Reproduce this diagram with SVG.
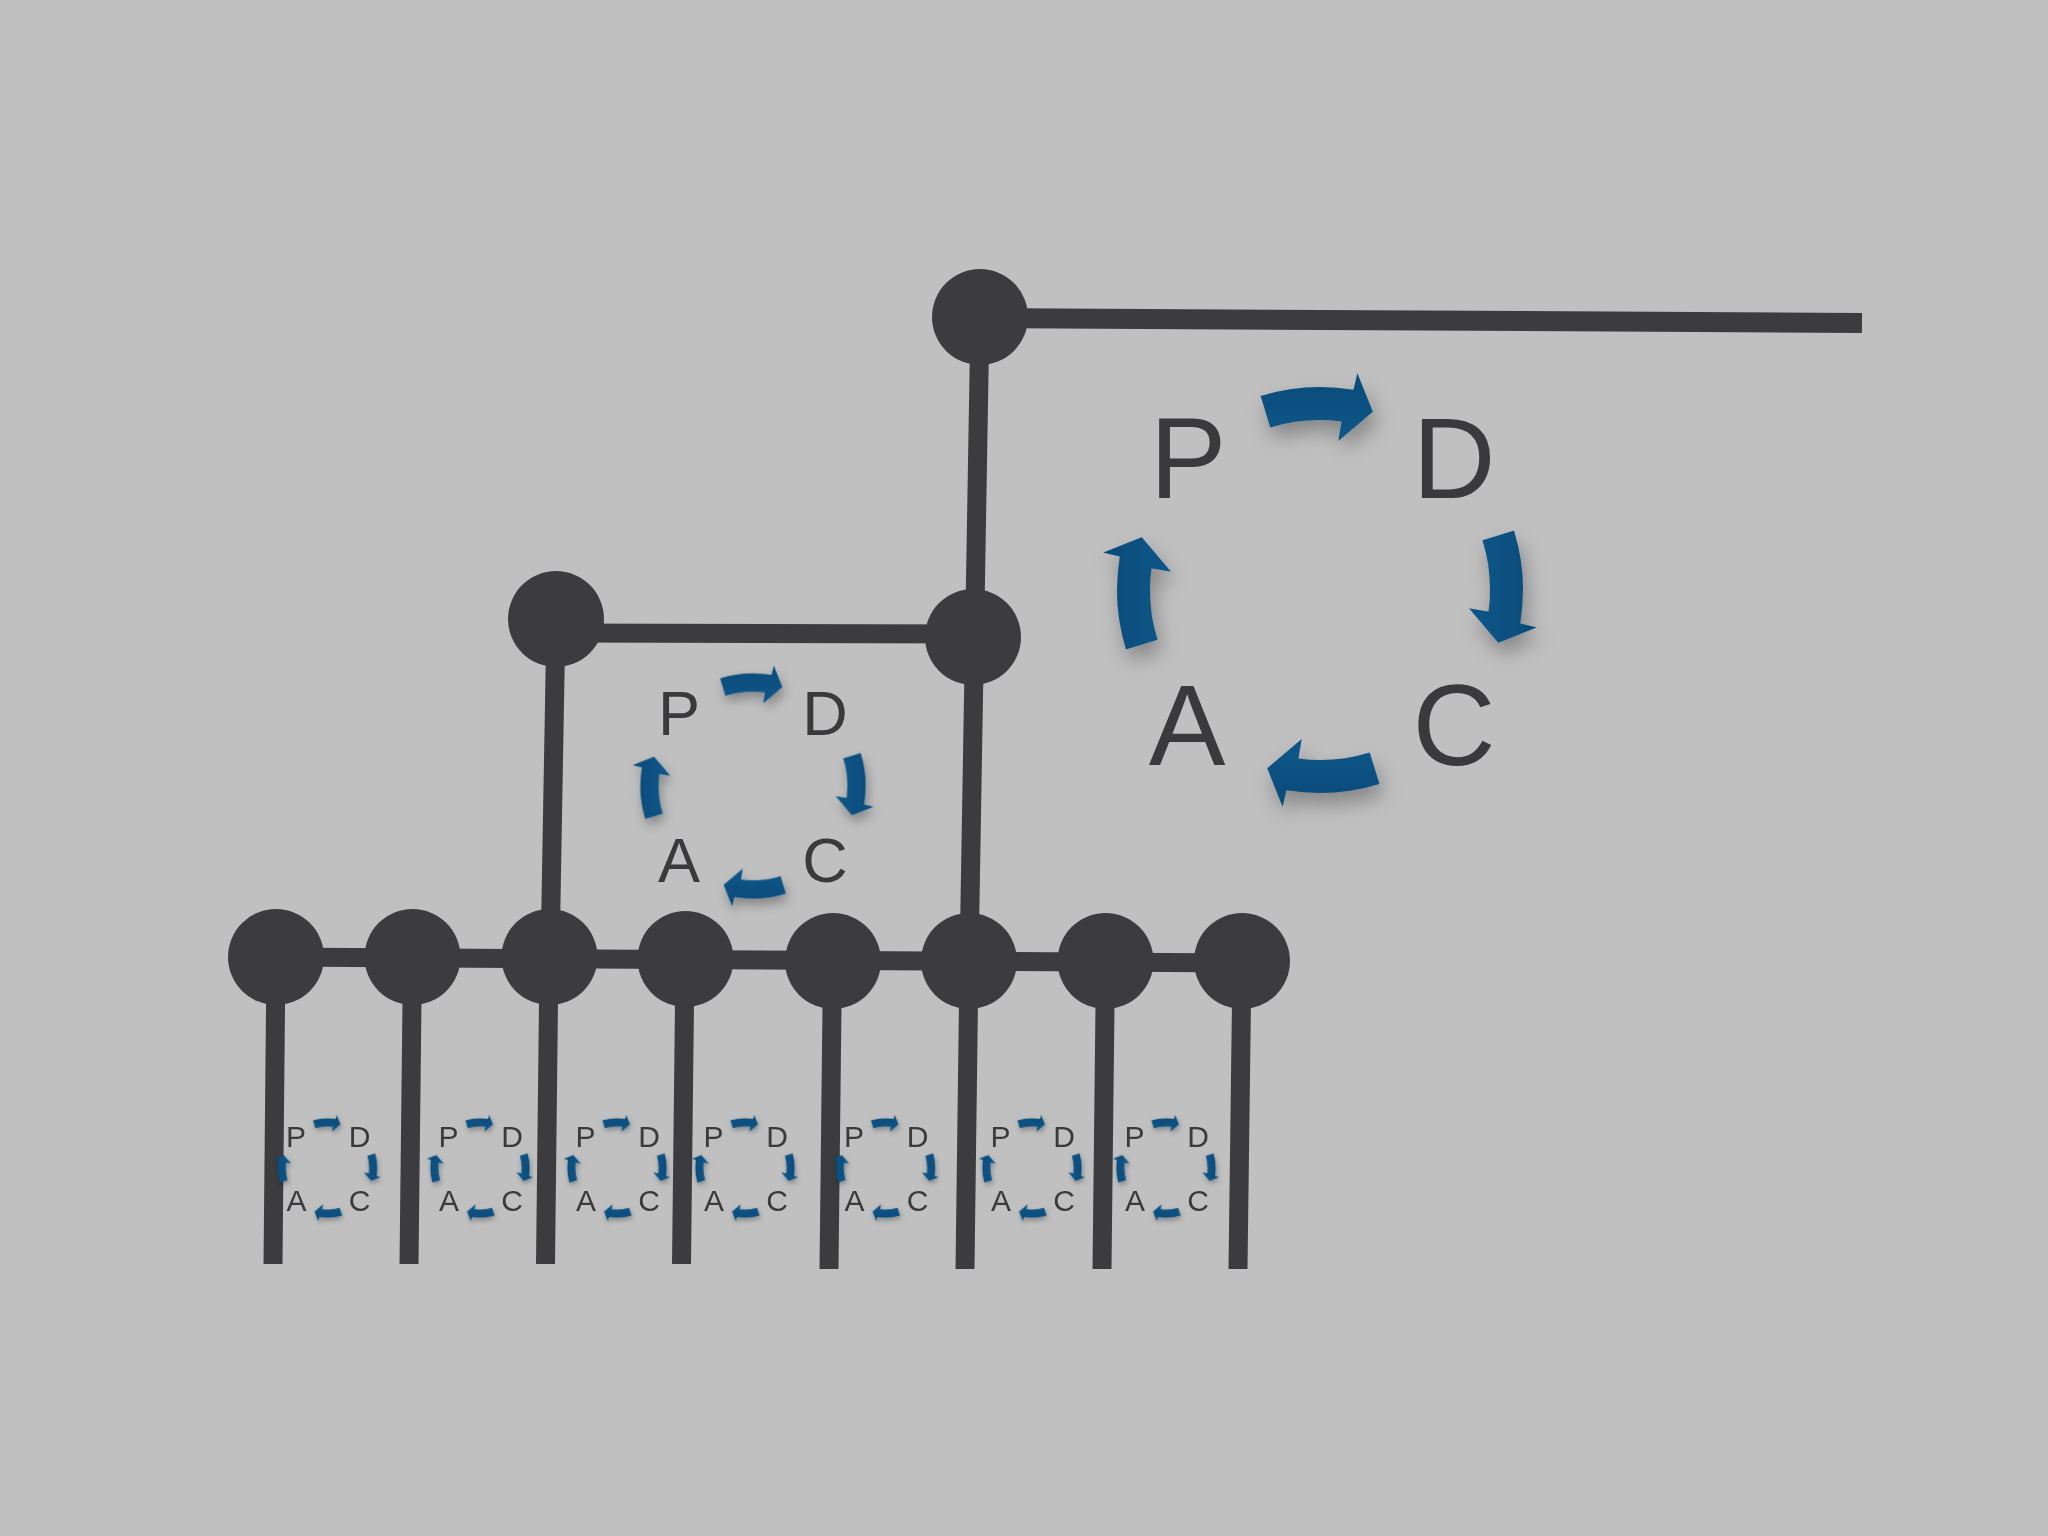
<svg xmlns="http://www.w3.org/2000/svg" xmlns:xlink="http://www.w3.org/1999/xlink" width="2048" height="1536" viewBox="0 0 2048 1536">
  <defs>
    <linearGradient id="blue" x1="0" y1="0" x2="0" y2="1">
      <stop offset="0" stop-color="#064b7a"/>
      <stop offset="1" stop-color="#0b5688"/>
    </linearGradient>
    <filter id="sh" x="-50%" y="-50%" width="200%" height="200%">
      <feDropShadow dx="4" dy="11" stdDeviation="10" flood-color="#000" flood-opacity="0.3"/>
    </filter>
    <path id="arr" d="M -59.4 -194.1 A 203 203 0 0 1 33.5 -200.2 L 37.4 -216.8 L 52.8 -178.3 L 18.3 -148.9 L 21.6 -168.6 A 170 170 0 0 0 -49.7 -162.6 Z" fill="url(#blue)"/>
    <g id="ring">
      <use xlink:href="#arr"/>
      <use xlink:href="#arr" transform="rotate(90)"/>
      <use xlink:href="#arr" transform="rotate(180)"/>
      <use xlink:href="#arr" transform="rotate(270)"/>
    </g>
  </defs>
  <style>
    .ln { stroke: #3c3b3d; stroke-width: 19; fill: none; stroke-linecap: butt; }
    .nd { fill: #3c3b3d; }
    .lt { font-family: "Liberation Sans", Arial, sans-serif; fill: #3a393b; text-anchor: middle; }
    .big { font-size: 115px; }
    .mid { font-size: 63px; }
    .sm { font-size: 30px; }
  </style>
  <rect x="0" y="0" width="2048" height="1536" fill="#c0c0c1"/>

  <g id="connectors">
    <line class="ln" x1="980" y1="318" x2="1862" y2="323" style="stroke-width:20"/>
    <line class="ln" x1="980" y1="316" x2="969" y2="961"/>
    <line class="ln" x1="556" y1="633" x2="973" y2="634"/>
    <line class="ln" x1="556" y1="619" x2="550" y2="957"/>
    <line class="ln" x1="276" y1="957" x2="1242" y2="963"/>
    <line class="ln" x1="276" y1="957" x2="273" y2="1264"/>
    <line class="ln" x1="412.5" y1="957" x2="409" y2="1264"/>
    <line class="ln" x1="549" y1="957" x2="545.5" y2="1264"/>
    <line class="ln" x1="685" y1="959" x2="681.5" y2="1264"/>
    <line class="ln" x1="832.5" y1="961" x2="829" y2="1269"/>
    <line class="ln" x1="969" y1="961" x2="965" y2="1269"/>
    <line class="ln" x1="1105.5" y1="961" x2="1102" y2="1269"/>
    <line class="ln" x1="1242" y1="961" x2="1238" y2="1269"/>
  </g>

  <g id="node-top"><circle class="nd" cx="980" cy="317" r="48"/></g>
  <g id="node-mid-left"><circle class="nd" cx="556" cy="619" r="48"/></g>
  <g id="node-mid-right"><circle class="nd" cx="973" cy="637" r="48"/></g>
  <g id="node-b1"><circle class="nd" cx="276" cy="957" r="48"/></g>
  <g id="node-b2"><circle class="nd" cx="412.5" cy="957" r="48"/></g>
  <g id="node-b3"><circle class="nd" cx="549.5" cy="957" r="48"/></g>
  <g id="node-b4"><circle class="nd" cx="685.5" cy="959" r="48"/></g>
  <g id="node-b5"><circle class="nd" cx="833" cy="961" r="48"/></g>
  <g id="node-b6"><circle class="nd" cx="969" cy="961" r="48"/></g>
  <g id="node-b7"><circle class="nd" cx="1105.5" cy="961" r="48"/></g>
  <g id="node-b8"><circle class="nd" cx="1242" cy="961" r="48"/></g>

  <g id="pdca-big">
    <g transform="translate(1320,590)" filter="url(#sh)"><use xlink:href="#ring"/></g>
    <text class="lt big" x="1188" y="498">P</text>
    <text class="lt big" x="1454" y="498">D</text>
    <text class="lt big" x="1187" y="765">A</text>
    <text class="lt big" x="1454" y="765">C</text>
  </g>

  <g id="pdca-mid">
    <g transform="translate(753,786) scale(0.555)" filter="url(#sh)"><use xlink:href="#ring"/></g>
    <text class="lt mid" x="679" y="735">P</text>
    <text class="lt mid" x="825" y="735">D</text>
    <text class="lt mid" x="679" y="882">A</text>
    <text class="lt mid" x="825" y="882">C</text>
  </g>

  <g id="pdca-s1" transform="translate(327.5,1168)">
    <g transform="scale(0.245)" filter="url(#sh)"><use xlink:href="#ring"/></g>
    <text class="lt sm" x="-31.5" y="-21">P</text><text class="lt sm" x="32" y="-21">D</text>
    <text class="lt sm" x="-31" y="42.5">A</text><text class="lt sm" x="32" y="42.5">C</text>
  </g>
  <g id="pdca-s2" transform="translate(480,1168)">
    <g transform="scale(0.245)" filter="url(#sh)"><use xlink:href="#ring"/></g>
    <text class="lt sm" x="-31.5" y="-21">P</text><text class="lt sm" x="32" y="-21">D</text>
    <text class="lt sm" x="-31" y="42.5">A</text><text class="lt sm" x="32" y="42.5">C</text>
  </g>
  <g id="pdca-s3" transform="translate(617,1168)">
    <g transform="scale(0.245)" filter="url(#sh)"><use xlink:href="#ring"/></g>
    <text class="lt sm" x="-31.5" y="-21">P</text><text class="lt sm" x="32" y="-21">D</text>
    <text class="lt sm" x="-31" y="42.5">A</text><text class="lt sm" x="32" y="42.5">C</text>
  </g>
  <g id="pdca-s4" transform="translate(745,1168)">
    <g transform="scale(0.245)" filter="url(#sh)"><use xlink:href="#ring"/></g>
    <text class="lt sm" x="-31.5" y="-21">P</text><text class="lt sm" x="32" y="-21">D</text>
    <text class="lt sm" x="-31" y="42.5">A</text><text class="lt sm" x="32" y="42.5">C</text>
  </g>
  <g id="pdca-s5" transform="translate(885.5,1168)">
    <g transform="scale(0.245)" filter="url(#sh)"><use xlink:href="#ring"/></g>
    <text class="lt sm" x="-31.5" y="-21">P</text><text class="lt sm" x="32" y="-21">D</text>
    <text class="lt sm" x="-31" y="42.5">A</text><text class="lt sm" x="32" y="42.5">C</text>
  </g>
  <g id="pdca-s6" transform="translate(1032,1168)">
    <g transform="scale(0.245)" filter="url(#sh)"><use xlink:href="#ring"/></g>
    <text class="lt sm" x="-31.5" y="-21">P</text><text class="lt sm" x="32" y="-21">D</text>
    <text class="lt sm" x="-31" y="42.5">A</text><text class="lt sm" x="32" y="42.5">C</text>
  </g>
  <g id="pdca-s7" transform="translate(1166,1168)">
    <g transform="scale(0.245)" filter="url(#sh)"><use xlink:href="#ring"/></g>
    <text class="lt sm" x="-31.5" y="-21">P</text><text class="lt sm" x="32" y="-21">D</text>
    <text class="lt sm" x="-31" y="42.5">A</text><text class="lt sm" x="32" y="42.5">C</text>
  </g>
</svg>
